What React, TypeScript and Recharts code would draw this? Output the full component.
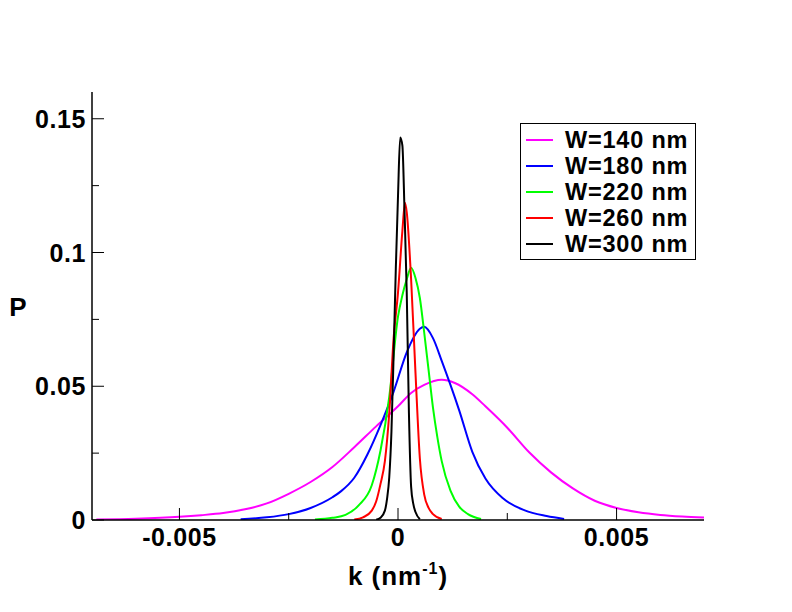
import React from "react";
import { LineChart, Line, XAxis, YAxis, Label } from "recharts";

// W = 140 nm
const k140 = [-0.0069, -0.006, -0.005, -0.0045, -0.004, -0.0035, -0.003, -0.0025, -0.002, -0.0015, -0.001, -0.0005, 0, 0.0003, 0.0006, 0.001, 0.0013, 0.0017, 0.002, 0.0025, 0.003, 0.0035, 0.004, 0.0045, 0.005, 0.0055, 0.006, 0.0065, 0.007];
const p140 = [0.0002, 0.0005, 0.0012, 0.0018, 0.0026, 0.004, 0.0062, 0.0098, 0.0142, 0.0198, 0.0272, 0.035, 0.0425, 0.0475, 0.0505, 0.0524, 0.0512, 0.047, 0.0425, 0.0345, 0.0253, 0.0178, 0.0118, 0.0072, 0.0045, 0.0029, 0.0019, 0.0013, 0.0009];

// W = 180 nm
const k180 = [-0.0036, -0.003, -0.0025, -0.002, -0.0015, -0.0013, -0.001, -0.0007, -0.0004, -0.0001, 0.0002, 0.0005, 0.0006, 0.0008, 0.001, 0.0012, 0.0014, 0.0017, 0.002, 0.0024, 0.0029, 0.0034, 0.0038];
const p180 = [0.0003, 0.001, 0.0022, 0.0045, 0.0085, 0.0108, 0.0158, 0.0245, 0.0355, 0.048, 0.0627, 0.0715, 0.0722, 0.068, 0.0595, 0.0505, 0.041, 0.0255, 0.0155, 0.0081, 0.0036, 0.0015, 0.0004];

// W = 220 nm
const k220 = [-0.0019, -0.0015, -0.0012, -0.0009, -0.0006, -0.0004, -0.0002, 0, 0.0001, 0.0002, 0.0003, 0.0004, 0.0005, 0.0006, 0.0007, 0.0008, 0.0009, 0.001, 0.0012, 0.0014, 0.0016, 0.0019];
const p220 = [0.0002, 0.0008, 0.0019, 0.0055, 0.013, 0.026, 0.046, 0.076, 0.084, 0.09, 0.0943, 0.0905, 0.083, 0.07, 0.056, 0.042, 0.031, 0.022, 0.011, 0.005, 0.0022, 0.0004];

// W = 260 nm
const k260 = [-0.001, -0.0008, -0.0006, -0.0005, -0.0004, -0.0003, -0.0002, -0.0001, 0, 0.0001, 0.00016, 0.0002, 0.0003, 0.0004, 0.0005, 0.0006, 0.0007, 0.0008, 0.001];
const p260 = [0.0002, 0.001, 0.0035, 0.0069, 0.0135, 0.022, 0.04, 0.068, 0.085, 0.108, 0.1186, 0.115, 0.09, 0.055, 0.023, 0.0095, 0.0045, 0.0022, 0.0004];

// W = 300 nm
const k300 = [-0.0005, -0.0004, -0.0003, -0.00025, -0.0002, -0.00015, -0.0001, -0.00005, 0, 0.00005, 0.0001, 0.00015, 0.0002, 0.00025, 0.0003, 0.00035, 0.0004, 0.0005];
const p300 = [0.0001, 0.0008, 0.0035, 0.008, 0.016, 0.033, 0.062, 0.094, 0.121, 0.143, 0.14, 0.115, 0.085, 0.04, 0.0125, 0.006, 0.003, 0.0003];

const seriesNames = ["W=140 nm", "W=180 nm", "W=220 nm", "W=260 nm", "W=300 nm"];
const seriesColors = ["#ff00ff", "#0000ff", "#00ff00", "#ff0000", "#000000"];
const seriesK = [k140, k180, k220, k260, k300];
const seriesP = [p140, p180, p220, p260, p300];

const xMajorTicks = [-0.005, 0, 0.005];
const xMinorTicks = [-0.0025, 0.0025];
const yMajorTicks = [0, 0.05, 0.1, 0.15];
const yMinorTicks = [0.025, 0.075, 0.125];

const xDomain = [-0.007, 0.007];
const yDomain = [0, 0.16];

const FONT = "'Liberation Sans', Arial, Helvetica, sans-serif";

const series = seriesNames.map((name, i) => ({
  name,
  color: seriesColors[i],
  data: seriesK[i].map((k, j) => ({ k, p: seriesP[i][j] })),
}));

const allX = [...xMajorTicks, ...xMinorTicks].sort((a, b) => a - b);
const allY = [...yMajorTicks, ...yMinorTicks].sort((a, b) => a - b);

const XTick = ({ x, y, payload, side }: any) => {
  const major = xMajorTicks.includes(payload.value);
  const len = major ? 12 : 7;
  const dir = side === "bottom" ? -1 : 1;
  return (
    <g>
      <line x1={x} y1={y} x2={x} y2={y + dir * len} stroke="#000" strokeWidth={1} />
      {side === "bottom" && major && (
        <text
          x={x}
          y={y + 26}
          textAnchor="middle"
          fontFamily={FONT}
          fontWeight="bold"
          fontSize={25}
          letterSpacing={0.6}
          fill="#000"
        >
          {String(payload.value)}
        </text>
      )}
    </g>
  );
};

const YTick = ({ x, y, payload, side }: any) => {
  const major = yMajorTicks.includes(payload.value);
  const len = major ? 12 : 7;
  const dir = side === "left" ? 1 : -1;
  return (
    <g>
      <line x1={x} y1={y} x2={x + dir * len} y2={y} stroke="#000" strokeWidth={1} />
      {side === "left" && major && (
        <text
          x={x - 6}
          y={y + 9}
          textAnchor="end"
          fontFamily={FONT}
          fontWeight="bold"
          fontSize={25}
          letterSpacing={0.6}
          fill="#000"
        >
          {String(payload.value)}
        </text>
      )}
    </g>
  );
};

const XLabel = ({ viewBox }: any) => {
  const cx = viewBox.x + viewBox.width / 2;
  return (
    <text
      x={cx}
      y={viewBox.y + 65}
      textAnchor="middle"
      fontFamily={FONT}
      fontWeight="bold"
      fontSize={26}
      letterSpacing={1}
      fill="#000"
    >
      k (nm
      <tspan fontSize={16} dy={-11}>-1</tspan>
      <tspan dy={11}>)</tspan>
    </text>
  );
};

const YLabel = ({ viewBox }: any) => (
  <text
    x={18}
    y={viewBox.y + viewBox.height / 2 + 10}
    textAnchor="middle"
    fontFamily={FONT}
    fontWeight="bold"
    fontSize={26}
    fill="#000"
  >
    P
  </text>
);

const ChartLegend = () => (
  <div
    style={{
      position: "absolute",
      left: 520,
      top: 123,
      width: 176,
      height: 137,
      border: "1px solid #000",
      background: "#fff",
      boxSizing: "border-box",
      paddingTop: 3,
    }}
  >
    {series.map((s) => (
      <div
        key={s.name}
        style={{ display: "flex", alignItems: "center", height: 26 }}
      >
        <div
          style={{
            marginLeft: 5,
            width: 27,
            height: 2,
            background: s.color,
          }}
        />
        <span
          style={{
            marginLeft: 12,
            fontFamily: FONT,
            fontWeight: "bold",
            fontSize: 23.5,
            letterSpacing: 0.8,
            lineHeight: "26px",
            color: "#000",
            whiteSpace: "nowrap",
          }}
        >
          {s.name}
        </span>
      </div>
    ))}
  </div>
);

export default function App() {
  return (
    <div
      style={{
        position: "absolute",
        left: 0,
        top: 0,
        width: 792,
        height: 612,
        background: "#fff",
      }}
    >
      <LineChart
        width={792}
        height={612}
        margin={{ top: 92, right: 88, bottom: 0, left: 0 }}
      >
        <XAxis
          xAxisId="bottom"
          dataKey="k"
          type="number"
          domain={xDomain}
          ticks={allX}
          interval={0}
          allowDataOverflow
          height={92}
          tickSize={0}
          tickMargin={0}
          tickLine={false}
          axisLine={{ stroke: "#000", strokeWidth: 1.5 }}
          tick={(p: any) => <XTick {...p} side="bottom" />}
        >
          <Label content={<XLabel />} />
        </XAxis>
        <XAxis
          xAxisId="top"
          orientation="top"
          dataKey="k"
          type="number"
          domain={xDomain}
          ticks={allX}
          interval={0}
          allowDataOverflow
          height={0}
          tickSize={0}
          tickMargin={0}
          tickLine={false}
          axisLine={{ stroke: "#000", strokeWidth: 1.5 }}
          tick={(p: any) => <XTick {...p} side="top" />}
        />
        <YAxis
          yAxisId="left"
          type="number"
          domain={yDomain}
          ticks={allY}
          interval={0}
          allowDataOverflow
          width={92}
          tickSize={0}
          tickMargin={0}
          tickLine={false}
          axisLine={{ stroke: "#000", strokeWidth: 1.5 }}
          tick={(p: any) => <YTick {...p} side="left" />}
        >
          <Label content={<YLabel />} />
        </YAxis>
        <YAxis
          yAxisId="right"
          orientation="right"
          type="number"
          domain={yDomain}
          ticks={allY}
          interval={0}
          allowDataOverflow
          width={0}
          tickSize={0}
          tickMargin={0}
          tickLine={false}
          axisLine={{ stroke: "#000", strokeWidth: 1.5 }}
          tick={(p: any) => <YTick {...p} side="right" />}
        />
        {series.map((s) => (
          <Line
            key={s.name}
            xAxisId="bottom"
            yAxisId="left"
            data={s.data}
            dataKey="p"
            name={s.name}
            type="monotone"
            stroke={s.color}
            strokeWidth={2}
            dot={false}
            activeDot={false}
            isAnimationActive={false}
          />
        ))}
      </LineChart>
      <ChartLegend />
    </div>
  );
}
